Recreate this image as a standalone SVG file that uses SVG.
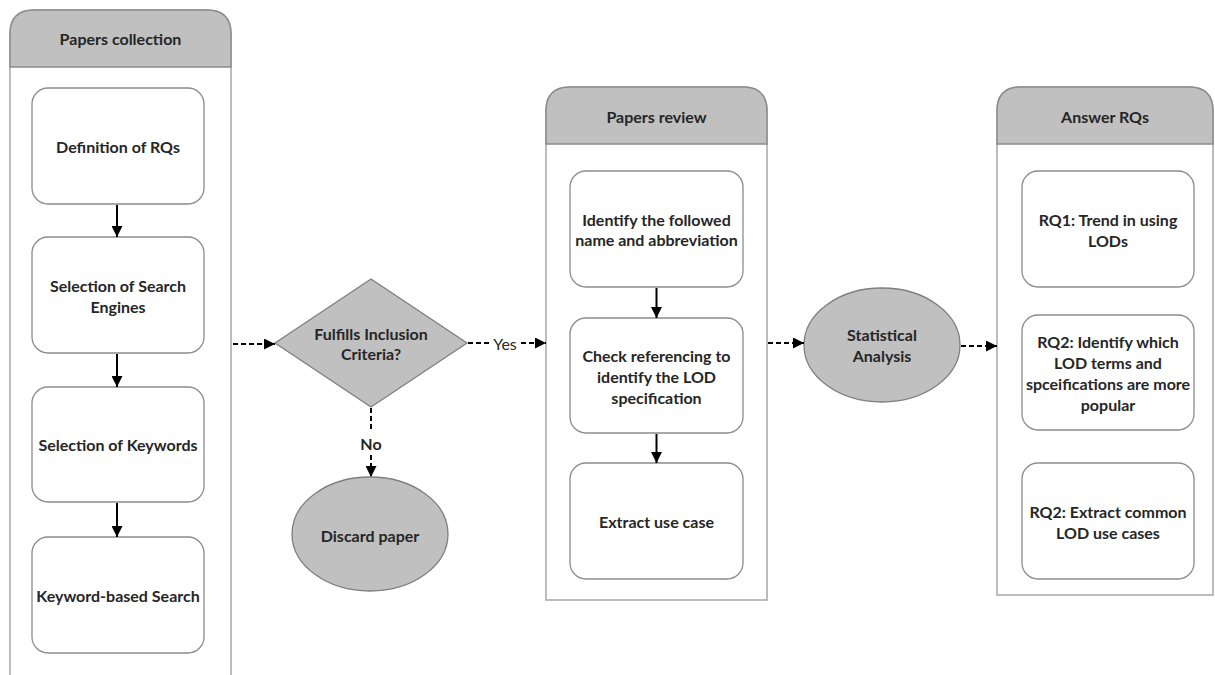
<svg xmlns="http://www.w3.org/2000/svg" width="1215" height="675" viewBox="0 0 1215 675">
<style>
.lane{fill:#ffffff;stroke:#a6a6a6;stroke-width:1.5}
.hdr{fill:#c0c0c0;stroke:#8c8c8c;stroke-width:1.5}
.box{fill:#ffffff;stroke:#8c8c8c;stroke-width:1.3}
.shape{fill:#c0c0c0;stroke:#7f7f7f;stroke-width:1.3}
text{font-family:"Lato","Liberation Sans",sans-serif;font-weight:bold;font-size:16px;fill:#262626;text-anchor:middle;dominant-baseline:central}
.solid{stroke:#000;stroke-width:2;fill:none;marker-end:url(#ah)}
.dash{stroke:#000;stroke-width:2;fill:none;stroke-dasharray:5 3}
.dasharr{stroke:#000;stroke-width:2;fill:none;stroke-dasharray:5 3;marker-end:url(#ah)}
</style>
<defs>
<marker id="ah" viewBox="0 0 10 10" refX="10" refY="5" markerWidth="5.5" markerHeight="5.5" orient="auto" markerUnits="strokeWidth">
<path d="M0,0 L10,5 L0,10 z" fill="#000"/>
</marker>
</defs>
<rect width="1215" height="675" fill="#ffffff"/>

<g id="lane-collection">
<path class="lane" d="M10,676 V34 Q10,10 34,10 H207 Q231,10 231,34 V676"/>
<path class="hdr" d="M10,67 V34 Q10,10 34,10 H207 Q231,10 231,34 V67 Z"/>
<text x="120.5" y="38">Papers collection</text>
</g>
<g id="lane-review">
<path class="lane" d="M546,600 V111 Q546,87 570,87 H743 Q767,87 767,111 V600 Z"/>
<path class="hdr" d="M546,144 V111 Q546,87 570,87 H743 Q767,87 767,111 V144 Z"/>
<text x="656.5" y="116">Papers review</text>
</g>
<g id="lane-answer">
<path class="lane" d="M997,595 V111 Q997,87 1021,87 H1189 Q1213,87 1213,111 V595 Z"/>
<path class="hdr" d="M997,144 V111 Q997,87 1021,87 H1189 Q1213,87 1213,111 V144 Z"/>
<text x="1105" y="116">Answer RQs</text>
</g>

<g id="n-def"><rect class="box" x="32" y="88" width="172" height="116" rx="16"/><text x="118" y="146">Definition of RQs</text></g>
<g id="n-engines"><rect class="box" x="32" y="237" width="172" height="116" rx="16"/><text x="118" y="285">Selection of Search</text><text x="118" y="306">Engines</text></g>
<g id="n-keywords"><rect class="box" x="32" y="387" width="172" height="115" rx="16"/><text x="118" y="444">Selection of Keywords</text></g>
<g id="n-search"><rect class="box" x="32" y="537" width="172" height="116" rx="16"/><text x="118" y="595">Keyword-based Search</text></g>

<g id="n-criteria"><polygon class="shape" points="275,343 371,279 467,343 371,407"/><text x="371" y="333">Fulfills Inclusion</text><text x="371" y="353">Criteria?</text></g>
<g id="n-discard"><ellipse class="shape" cx="370" cy="534" rx="78" ry="57"/><text x="370" y="535">Discard paper</text></g>

<g id="n-identify"><rect class="box" x="570" y="171" width="173" height="116" rx="16"/><text x="656.5" y="219">Identify the followed</text><text x="656.5" y="239">name and abbreviation</text></g>
<g id="n-check"><rect class="box" x="570" y="318" width="173" height="115" rx="16"/><text x="656.5" y="355">Check referencing to</text><text x="656.5" y="376">identify the LOD</text><text x="656.5" y="397">specification</text></g>
<g id="n-extract"><rect class="box" x="570" y="463" width="173" height="116" rx="16"/><text x="656.5" y="521">Extract use case</text></g>

<g id="n-stat"><ellipse class="shape" cx="882" cy="345" rx="78" ry="57"/><text x="882" y="334">Statistical</text><text x="882" y="355">Analysis</text></g>

<g id="n-rq1"><rect class="box" x="1022" y="171" width="172" height="116" rx="16"/><text x="1108" y="219">RQ1: Trend in using</text><text x="1108" y="240">LODs</text></g>
<g id="n-rq2"><rect class="box" x="1022" y="315" width="172" height="115" rx="16"/><text x="1108" y="341">RQ2: Identify which</text><text x="1108" y="362">LOD terms and</text><text x="1108" y="383">spceifications are more</text><text x="1108" y="404">popular</text></g>
<g id="n-rq3"><rect class="box" x="1022" y="463" width="172" height="116" rx="16"/><text x="1108" y="511">RQ2: Extract common</text><text x="1108" y="532">LOD use cases</text></g>

<g id="connectors">
<line class="solid" x1="117" y1="205" x2="117" y2="237"/>
<line class="solid" x1="117" y1="354" x2="117" y2="387"/>
<line class="solid" x1="117" y1="503" x2="117" y2="537"/>
<line class="solid" x1="656.5" y1="288" x2="656.5" y2="318"/>
<line class="solid" x1="656.5" y1="434" x2="656.5" y2="463"/>
<line class="dasharr" x1="233" y1="344" x2="275" y2="344"/>
<line class="dash" x1="468" y1="343" x2="490" y2="343"/>
<text x="505" y="343" style="font-weight:normal">Yes</text>
<line class="dasharr" x1="521" y1="343" x2="546" y2="343"/>
<line class="dash" x1="371" y1="408" x2="371" y2="432"/>
<text x="371" y="443">No</text>
<line class="dasharr" x1="371" y1="455" x2="371" y2="477"/>
<line class="dasharr" x1="768" y1="343" x2="804" y2="343"/>
<line class="dasharr" x1="961" y1="346" x2="997" y2="346"/>
</g>
</svg>
